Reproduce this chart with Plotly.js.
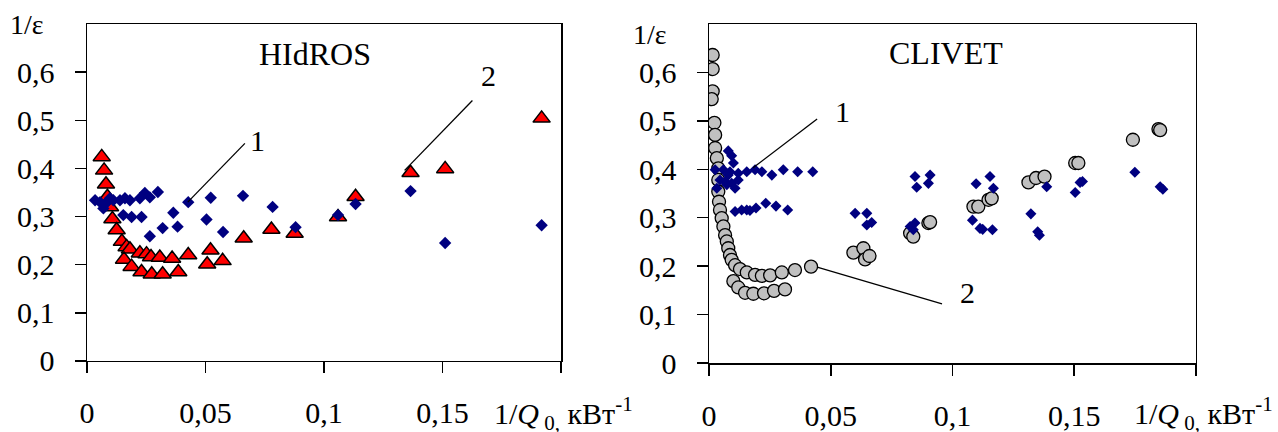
<!DOCTYPE html>
<html><head><meta charset="utf-8">
<script src="https://cdn.plot.ly/plotly-3.0.1.min.js"></script>
<style>body{margin:0;background:#fff}#c{width:1278px;height:432px}</style>
</head><body><div id="c"></div>
<script>
// HIdROS panel
const hidrosS1X = [0.0034,0.0055,0.0069,0.0076,0.0088,0.0097,0.0111,0.0139,0.016,0.0181,0.0223,0.0244,0.0265,0.0299,0.0153,0.0188,0.023,0.0265,0.0319,0.0364,0.0382,0.0427,0.0504,0.0522,0.0574,0.0658,0.0783,0.088,0.1059,0.1133,0.1365,0.1511,0.1918];
const hidrosS1Y = [0.334,0.330,0.317,0.326,0.332,0.338,0.334,0.334,0.338,0.334,0.338,0.349,0.340,0.351,0.303,0.299,0.299,0.259,0.276,0.308,0.279,0.330,0.294,0.339,0.268,0.343,0.320,0.278,0.303,0.326,0.353,0.245,0.282];
const hidrosS2X = [0.0062,0.0072,0.008,0.0086,0.0097,0.0107,0.0125,0.0147,0.0167,0.0181,0.0223,0.0251,0.027,0.0307,0.0359,0.0427,0.0521,0.0572,0.0507,0.0156,0.0188,0.023,0.0273,0.0319,0.0385,0.0661,0.0778,0.0876,0.1059,0.1133,0.1365,0.1511,0.1918];
const hidrosS2Y = [0.424,0.396,0.367,0.341,0.320,0.295,0.272,0.248,0.237,0.232,0.224,0.222,0.216,0.215,0.213,0.220,0.230,0.208,0.201,0.211,0.196,0.185,0.180,0.180,0.185,0.255,0.273,0.265,0.299,0.341,0.391,0.399,0.504];
// CLIVET panel
const clivetS1X = [0.0079,0.0093,0.01,0.0025,0.0059,0.0086,0.012,0.0155,0.0189,0.0217,0.0258,0.0305,0.0364,0.0426,0.0032,0.0045,0.0066,0.0079,0.0093,0.012,0.0107,0.0073,0.0107,0.0134,0.0155,0.0168,0.0193,0.0233,0.0275,0.0323,0.06,0.0648,0.0648,0.0668,0.0846,0.0853,0.0908,0.0901,0.0826,0.0846,0.0839,0.1097,0.1154,0.1168,0.1082,0.1113,0.1124,0.1164,0.1387,0.1322,0.135,0.1357,0.1504,0.1524,0.1534,0.1749,0.1853,0.1864];
const clivetS1Y = [0.438,0.428,0.413,0.399,0.399,0.395,0.392,0.395,0.399,0.395,0.388,0.399,0.395,0.395,0.361,0.378,0.375,0.388,0.371,0.378,0.361,0.368,0.313,0.316,0.316,0.315,0.320,0.330,0.324,0.316,0.309,0.309,0.285,0.290,0.385,0.363,0.388,0.371,0.282,0.289,0.275,0.370,0.385,0.361,0.295,0.278,0.276,0.275,0.364,0.308,0.271,0.264,0.352,0.373,0.375,0.394,0.364,0.359];
const clivetS2X = [0.0015,0.0015,0.0015,0.0011,0.0022,0.0025,0.0025,0.0032,0.0038,0.0038,0.0038,0.0041,0.0045,0.0052,0.0059,0.0066,0.0073,0.0079,0.0086,0.0093,0.0107,0.0127,0.0155,0.0189,0.0217,0.0251,0.0299,0.0353,0.0419,0.01,0.012,0.0148,0.0182,0.0226,0.0267,0.0312,0.0593,0.0634,0.0641,0.0659,0.0826,0.0839,0.0901,0.0908,0.1086,0.1106,0.1148,0.1161,0.1312,0.1343,0.1378,0.1504,0.1517,0.1741,0.1846,0.1853];
const clivetS2Y = [0.636,0.607,0.561,0.545,0.496,0.471,0.444,0.423,0.402,0.378,0.354,0.333,0.316,0.299,0.282,0.264,0.251,0.237,0.223,0.213,0.202,0.194,0.187,0.182,0.180,0.181,0.187,0.192,0.199,0.169,0.156,0.145,0.143,0.144,0.149,0.152,0.228,0.237,0.214,0.221,0.268,0.261,0.289,0.291,0.323,0.323,0.337,0.340,0.373,0.382,0.385,0.413,0.413,0.461,0.483,0.481];

const xTickVals = [0,0.05,0.1,0.15,0.2];
const xTickText = ['0','0,05','0,1','0,15',''];
const yTickVals = [0,0.1,0.2,0.3,0.4,0.5,0.6];
const yTickText = ['0','0,1','0,2','0,3','0,4','0,5','0,6'];

const FONT = '"Liberation Serif", "Times New Roman", serif';
const diamond = (sz)=>({symbol:'diamond', size:sz, color:'#000080', line:{width:0}});
const traces = [
  {x:hidrosS2X, y:hidrosS2Y, xaxis:'x', yaxis:'y', mode:'markers', type:'scatter',
   marker:{symbol:'triangle-up', size:15, color:'#ff0000', line:{color:'#000', width:1.5}}},
  {x:hidrosS1X, y:hidrosS1Y, xaxis:'x', yaxis:'y', mode:'markers', type:'scatter', marker:diamond(9.5)},
  {x:clivetS2X, y:clivetS2Y, xaxis:'x2', yaxis:'y2', mode:'markers', type:'scatter',
   marker:{symbol:'circle', size:13, color:'#c0c0c0', line:{color:'#000', width:1.3}}},
  {x:clivetS1X, y:clivetS1Y, xaxis:'x2', yaxis:'y2', mode:'markers', type:'scatter', marker:diamond(8.5)}
];

function xa(dom, anchor){
  return {domain:dom, anchor:anchor, range:[0,0.2], showgrid:false, zeroline:false,
    showline:true, linecolor:'#000', linewidth:1.5, mirror:true,
    ticks:'outside', ticklen:11, tickwidth:1.5, tickcolor:'#000',
    tickmode:'array', tickvals:xTickVals, ticktext:xTickText, ticklabelstandoff:14,
    tickfont:{family:FONT, size:30, color:'#000'}};
}
function ya(dom, anchor){
  return {domain:dom, anchor:anchor, range:[0,0.7], showgrid:false, zeroline:false,
    showline:true, linecolor:'#000', linewidth:1.5, mirror:true,
    ticks:'outside', ticklen:11, tickwidth:1.5, tickcolor:'#000',
    tickmode:'array', tickvals:yTickVals, ticktext:yTickText, ticklabelstandoff:14,
    tickfont:{family:FONT, size:30, color:'#000'}};
}
const ann = (x,y,text,xref,yref,opts)=>Object.assign({x:x,y:y,text:text,xref:xref,yref:yref,showarrow:false,
   xanchor:'center', yanchor:'middle', font:{family:FONT,size:30,color:'#000'}},opts||{});
const xLabel = '1/<i>Q</i><sub> 0,</sub> кВт<sup>-1</sup>';
const layout = {
  width:1278, height:432, margin:{l:0,r:0,t:0,b:0}, showlegend:false,
  paper_bgcolor:'#fff', plot_bgcolor:'#fff',
  xaxis:xa([0.0681,0.439],'y'), yaxis:ya([0.1644,0.9444],'x'),
  xaxis2:xa([0.5548,0.9358],'y2'), yaxis2:ya([0.1597,0.9444],'x2'),
  annotations:[
    ann(27/1278,1-25/432,'1/ε','paper','paper',{font:{family:FONT,size:28,color:'#000'}}),
    ann(650/1278,1-34/432,'1/ε','paper','paper',{font:{family:FONT,size:28,color:'#000'}}),
    ann(315/1278,1-54/432,'HIdROS','paper','paper',{font:{family:FONT,size:32,color:'#000'}}),
    ann(946/1278,1-53/432,'CLIVET','paper','paper',{font:{family:FONT,size:32,color:'#000'}}),
    ann(492/1278,1-413/432,xLabel,'paper','paper',{xanchor:'left'}),
    ann(1132/1278,1-413/432,xLabel,'paper','paper',{xanchor:'left'}),
    ann(0.072,0.459,'1','x','y'),
    ann(0.1693,0.593,'2','x','y'),
    ann(0.055,0.519,'1','x2','y2'),
    ann(0.106,0.145,'2','x2','y2')
  ],
  shapes:[
    {type:'line',xref:'x',yref:'y',x0:0.0666,y0:0.452,x1:0.0425,y1:0.330,line:{color:'#000',width:1.3}},
    {type:'line',xref:'x',yref:'y',x0:0.1626,y0:0.541,x1:0.134,y1:0.396,line:{color:'#000',width:1.3}},
    {type:'line',xref:'x2',yref:'y2',x0:0.0444,y0:0.504,x1:0.0181,y1:0.403,line:{color:'#000',width:1.3}},
    {type:'line',xref:'x2',yref:'y2',x0:0.0444,y0:0.198,x1:0.0957,y1:0.122,line:{color:'#000',width:1.3}}
  ]
};
Plotly.newPlot('c', traces, layout, {staticPlot:true});
</script></body></html>
